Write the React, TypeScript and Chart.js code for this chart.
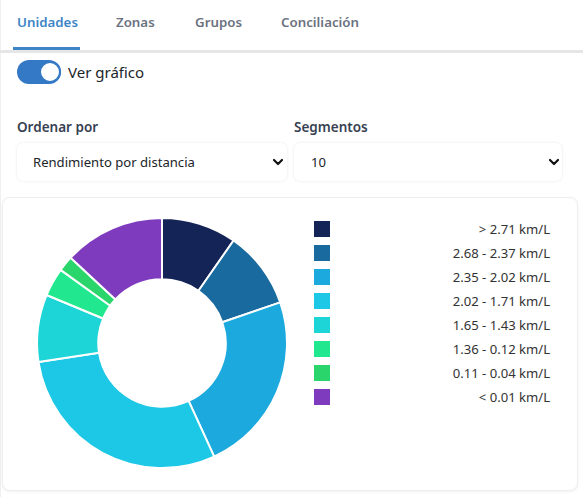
import React, { useEffect, useRef } from "react";
import { Chart, registerables } from "chart.js";

Chart.register(...registerables);

// ---- data ----
const tabLabels = ["Unidades", "Zonas", "Grupos", "Conciliación"];
const categories = [
  "> 2.71 km/L",
  "2.68 - 2.37 km/L",
  "2.35 - 2.02 km/L",
  "2.02 - 1.71 km/L",
  "1.65 - 1.43 km/L",
  "1.36 - 0.12 km/L",
  "0.11 - 0.04 km/L",
  "< 0.01 km/L",
];
const unitCounts = [29, 30, 70, 88, 26, 11, 6, 39];
const segmentColors = [
  "#152457",
  "#196a9f",
  "#1ca9dd",
  "#1cc8e5",
  "#1dd5d6",
  "#21e78e",
  "#2ad56b",
  "#7e3bbe",
];

const FONT = "'Segoe UI', 'Noto Sans', sans-serif";

// position text by its baseline (Noto Sans metrics)
function Txt(props: {
  x?: number;
  right?: number;
  base: number;
  fs: number;
  weight?: number;
  color: string;
  children: React.ReactNode;
}) {
  const { x, right, base, fs, weight = 400, color, children } = props;
  const style: React.CSSProperties = {
    position: "absolute",
    top: base - 1.069 * fs,
    lineHeight: `${1.362 * fs}px`,
    fontSize: fs,
    fontWeight: weight,
    color,
    whiteSpace: "nowrap",
    fontFamily: FONT,
  };
  if (x !== undefined) style.left = x;
  if (right !== undefined) {
    style.right = right;
    style.textAlign = "right";
  }
  return <div style={style}>{children}</div>;
}

function Chevron({ x, y }: { x: number; y: number }) {
  return (
    <svg
      width={12}
      height={8}
      style={{ position: "absolute", left: x, top: y }}
      viewBox="0 0 12 8"
    >
      <path d="M2 2 L6 6 L10 2" stroke="#111" strokeWidth={2.2} fill="none" strokeLinecap="round" strokeLinejoin="round" />
    </svg>
  );
}

export default function App() {
  const canvasRef = useRef<HTMLCanvasElement | null>(null);

  useEffect(() => {
    if (!canvasRef.current) return;
    const chart = new Chart(canvasRef.current, {
      type: "doughnut",
      data: {
        labels: categories,
        datasets: [
          {
            data: unitCounts,
            backgroundColor: segmentColors,
            borderColor: "#ffffff",
            borderWidth: 2,
            hoverOffset: 0,
          },
        ],
      },
      options: {
        responsive: false,
        maintainAspectRatio: false,
        animation: false,
        cutout: "51%",
        layout: { padding: 0 },
        plugins: {
          legend: { display: false },
          tooltip: { enabled: true },
        },
      },
    });
    return () => chart.destroy();
  }, []);

  const tabX = [17, 116, 195, 281];

  return (
    <div
      style={{
        position: "fixed",
        left: 0,
        top: 0,
        width: 583,
        height: 497,
        background: "#ffffff",
        fontFamily: FONT,
        overflow: "hidden",
      }}
    >
      {/* left edge line */}
      <div style={{ position: "absolute", left: 0, top: 0, width: 1, height: 497, background: "#f0f0f0" }} />

      {/* tabs */}
      {tabLabels.map((t, i) => (
        <Txt key={t} x={tabX[i]} base={27} fs={13.3} weight={600} color={i === 0 ? "#3d85c6" : "#6b7280"}>
          {t}
        </Txt>
      ))}
      <div style={{ position: "absolute", left: 0, top: 50, width: 583, height: 3, background: "#e6e6e6" }} />
      <div style={{ position: "absolute", left: 13, top: 47, width: 67, height: 3, background: "#3d85c6" }} />

      {/* toggle */}
      <div
        style={{
          position: "absolute",
          left: 17,
          top: 60,
          width: 44,
          height: 24,
          borderRadius: 12,
          background: "#3479c5",
        }}
      />
      <div
        style={{
          position: "absolute",
          left: 39,
          top: 61,
          width: 22,
          height: 22,
          borderRadius: "50%",
          background: "#ffffff",
          border: "2px solid #3479c5",
          boxSizing: "border-box",
        }}
      />
      <Txt x={68} base={78} fs={15} color="#212529">
        Ver gráfico
      </Txt>

      {/* selects */}
      <Txt x={17} base={132} fs={13.5} weight={600} color="#374151">
        Ordenar por
      </Txt>
      <Txt x={294} base={132} fs={13.5} weight={600} color="#374151">
        Segmentos
      </Txt>

      <div
        style={{
          position: "absolute",
          left: 17,
          top: 143,
          width: 270,
          height: 38,
          borderRadius: 6,
          background: "#fff",
          boxShadow: "0 0 3px rgba(0,0,0,0.10)",
        }}
      />
      <div
        style={{
          position: "absolute",
          left: 294,
          top: 143,
          width: 268,
          height: 38,
          borderRadius: 6,
          background: "#fff",
          boxShadow: "0 0 3px rgba(0,0,0,0.10)",
        }}
      />
      <Txt x={33} base={168} fs={13.1} color="#212529">
        Rendimiento por distancia
      </Txt>
      <Txt x={311} base={168} fs={13.1} color="#212529">
        10
      </Txt>
      <Chevron x={272} y={158} />
      <Chevron x={548} y={158} />

      {/* card */}
      <div
        style={{
          position: "absolute",
          left: 2,
          top: 197,
          width: 576,
          height: 294,
          borderRadius: 8,
          border: "1px solid #eeeeee",
          boxSizing: "border-box",
          background: "#fff",
          boxShadow: "0 1px 3px rgba(0,0,0,0.06)",
        }}
      />

      <canvas
        ref={canvasRef}
        width={252}
        height={252}
        style={{ position: "absolute", left: 36, top: 217, width: 252, height: 252 }}
      />

      {/* legend */}
      {categories.map((c, i) => (
        <React.Fragment key={c}>
          <div
            style={{
              position: "absolute",
              left: 314,
              top: 221 + i * 24,
              width: 16,
              height: 16,
              background: segmentColors[i],
            }}
          />
          <Txt right={33} base={235 + i * 24} fs={13.1} color="#333333">
            {c}
          </Txt>
        </React.Fragment>
      ))}
    </div>
  );
}
